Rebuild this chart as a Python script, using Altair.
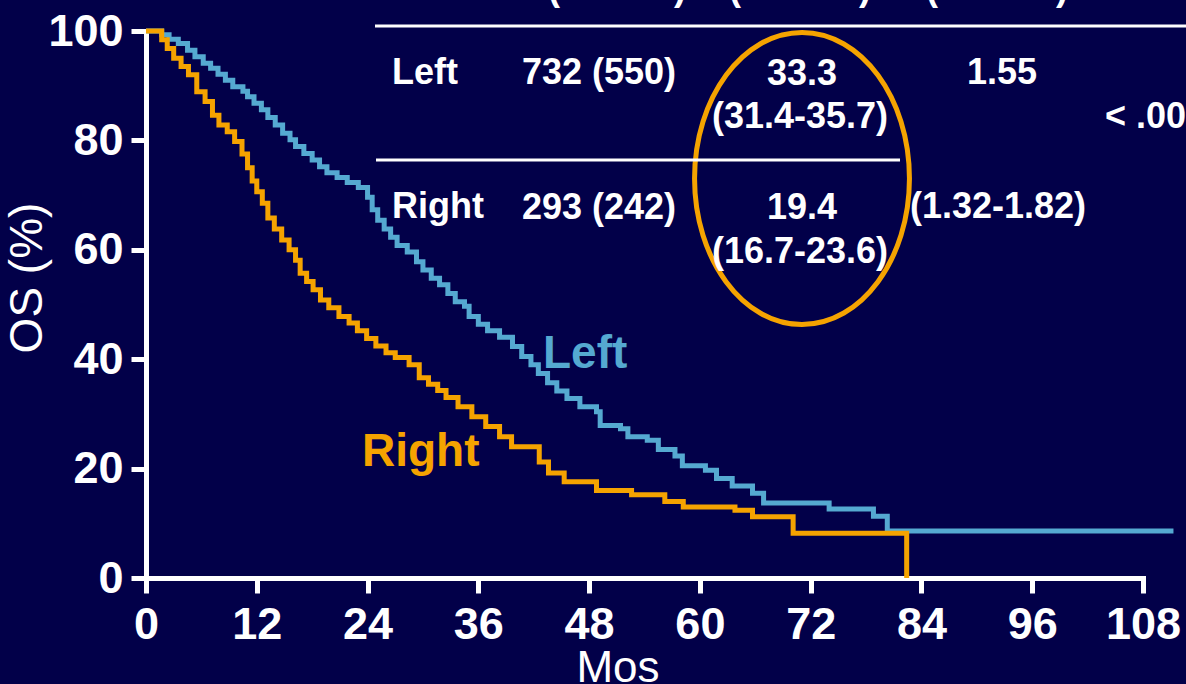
import altair as alt
import pandas as pd

# ---------------- data ----------------
left_months = [0, 1.7, 2.5, 3.5, 4.5, 5.3, 6.2, 7.0, 7.8, 8.6, 9.4, 10.5, 11.0, 11.7, 12.5,
               13.2, 14.0, 14.8, 15.6, 16.2, 17.1, 18.0, 18.8, 19.6, 20.7, 21.8, 23.0, 24.0,
               24.5, 25.1, 25.8, 26.5, 27.2, 28.3, 29.3, 30.0, 30.9, 31.8, 32.7, 33.5, 34.5,
               35.0, 36.0, 37.0, 38.3, 39.7, 40.7, 41.7, 42.5, 43.5, 44.5, 45.6, 47.0, 48.8,
               49.2, 51.4, 52.2, 54.3, 55.5, 57.3, 58.1, 60.6, 61.8, 63.5, 65.7, 66.9, 74.0,
               78.8, 80.3, 111.3]
left_surv = [100, 99.3, 98.5, 97.7, 96.5, 95.3, 94.1, 93.2, 92.1, 91.0, 89.8, 89.0, 88.0, 86.8,
             85.6, 84.2, 82.8, 81.3, 80.1, 78.9, 77.6, 76.4, 75.2, 74.1, 73.2, 72.3, 71.4, 69.6,
             67.3, 65.4, 63.8, 62.3, 60.8, 59.6, 57.8, 56.3, 54.8, 53.6, 52.0, 50.5, 49.7, 47.8,
             46.4, 45.2, 44.0, 42.3, 40.5, 39.0, 37.4, 35.7, 34.2, 32.8, 31.3, 30.4, 27.9, 27.3,
             25.8, 25.2, 23.5, 22.3, 20.5, 19.7, 18.2, 16.8, 15.5, 13.7, 12.6, 11.3, 8.6, 8.6]

right_months = [0, 1.7, 2.3, 3.0, 3.8, 4.6, 5.5, 6.4, 7.2, 7.9, 8.8, 9.6, 10.4, 11.0, 11.5,
                12.0, 12.6, 13.2, 13.9, 14.7, 15.5, 16.2, 16.7, 17.4, 18.1, 18.9, 19.8, 20.9,
                22.0, 22.9, 23.9, 24.9, 26.0, 27.0, 28.5, 29.6, 30.6, 31.6, 32.5, 33.8, 35.3,
                36.8, 38.3, 39.6, 42.6, 43.6, 45.3, 48.8, 52.6, 56.2, 58.2, 63.8, 65.7, 70.1,
                82.4]
right_surv = [100, 98.4, 96.8, 95.0, 93.5, 92.0, 88.9, 87.1, 84.6, 82.8, 81.6, 79.8, 77.5, 75.0,
              72.6, 70.6, 68.5, 65.8, 63.8, 61.8, 60.0, 58.1, 55.7, 54.2, 52.7, 50.8, 49.4, 47.8,
              46.6, 45.2, 43.8, 42.4, 41.2, 40.3, 39.0, 36.6, 35.4, 34.3, 33.0, 31.3, 29.5, 27.7,
              25.8, 24.0, 21.2, 19.2, 17.6, 16.0, 15.2, 14.0, 13.0, 12.4, 11.2, 8.2, 0]

x_ticks = [0, 12, 24, 36, 48, 60, 72, 84, 96, 108]
y_ticks = [0, 20, 40, 60, 80, 100]

assert len(left_months) == len(left_surv)
assert len(right_months) == len(right_surv)

# ---------------- styles ----------------
BG = "#020049"
BLUE = "#55A9D1"
ORANGE = "#F5A300"
WHITE = "#FFFFFF"
FONT = "Liberation Sans"

df_left = pd.DataFrame({"month": left_months, "os": left_surv})
df_right = pd.DataFrame({"month": right_months, "os": right_surv})
one = pd.DataFrame({"k": [0]})

x_enc = alt.X("month:Q",
              scale=alt.Scale(domain=[0, 108], nice=False, zero=False),
              axis=alt.Axis(values=x_ticks, title=None, labelPadding=9))
y_enc = alt.Y("os:Q",
              scale=alt.Scale(domain=[0, 100], nice=False),
              axis=alt.Axis(values=y_ticks, title=None, labelPadding=8))

left_line = alt.Chart(df_left).mark_line(
    interpolate="step-after", color=BLUE, strokeWidth=5
).encode(x=x_enc, y=y_enc)

right_line = alt.Chart(df_right).mark_line(
    interpolate="step-after", color=ORANGE, strokeWidth=5
).encode(x=x_enc, y=y_enc)


def label(txt, x, y, size, color=WHITE, weight="bold", align="left",
          baseline="alphabetic", angle=0):
    kw = dict(text=txt, fontSize=size, font=FONT, fontWeight=weight,
              color=color, align=align, baseline=baseline)
    if angle:
        kw["angle"] = angle
    return alt.Chart(one).mark_text(**kw).encode(x=alt.value(x), y=alt.value(y))


def hrule(x1, x2, y):
    return alt.Chart(one).mark_rule(color=WHITE, strokeWidth=3).encode(
        x=alt.value(x1), x2=alt.value(x2), y=alt.value(y))


ELLIPSE = ("M -0.736 0 C -0.736 -0.552 -0.4065 -1 0 -1 "
           "C 0.4065 -1 0.736 -0.552 0.736 0 "
           "C 0.736 0.552 0.4065 1 0 1 "
           "C -0.4065 1 -0.736 0.552 -0.736 0 Z")

ellipse = alt.Chart(one).mark_point(
    shape=ELLIPSE, size=85264, filled=False, stroke=ORANGE, strokeWidth=5, opacity=1
).encode(x=alt.value(656), y=alt.value(147.5))

TS = 36
table = [
    label("(events)", 471, -31.5, TS, align="center"),
    label("(95% CI)", 654, -31.5, TS, align="center"),
    label("(95% CI)", 851, -31.5, TS, align="center"),
    label("Left", 246, 53, TS),
    label("732 (550)", 376, 53, TS),
    label("33.3", 656, 54, TS, align="center"),
    label("(31.4-35.7)", 654, 97, TS, align="center"),
    label("1.55", 856, 53, TS, align="center"),
    label("< .001", 959, 97, TS),
    label("Right", 246, 187, TS),
    label("293 (242)", 376, 188, TS),
    label("19.4", 656, 188, TS, align="center"),
    label("(16.7-23.6)", 654, 232, TS, align="center"),
    label("(1.32-1.82)", 852, 187, TS, align="center"),
]

others = [
    label("Left", 397, 337, 46, color=BLUE),
    label("Right", 216, 435, 46, color=ORANGE),
    label("OS (%)", -118, 247, 46, weight="normal", align="center",
          baseline="middle", angle=270),
    label("Mos", 472, 651, 44, weight="normal", align="center"),
]

chart = alt.layer(
    ellipse,
    hrule(229, 1040, -5),
    hrule(230, 754, 129),
    left_line,
    right_line,
    *table,
    *others,
).properties(
    width=997,
    height=547,
    background=BG,
    padding={"left": 146, "top": 31, "right": 43, "bottom": 106},
    autosize=alt.AutoSizeParams(type="none"),
).configure_view(
    strokeWidth=0
).configure_axis(
    grid=False,
    domainColor=WHITE,
    domainWidth=5,
    domainCap="square",
    tickColor=WHITE,
    tickWidth=5,
    tickSize=15,
    labelColor=WHITE,
    labelFont=FONT,
    labelFontSize=45,
    labelFontWeight="bold",
    labelOverlap=False,
    labelFlush=False,
)

chart.save("out.html", embed_options={"renderer": "svg", "actions": False})
